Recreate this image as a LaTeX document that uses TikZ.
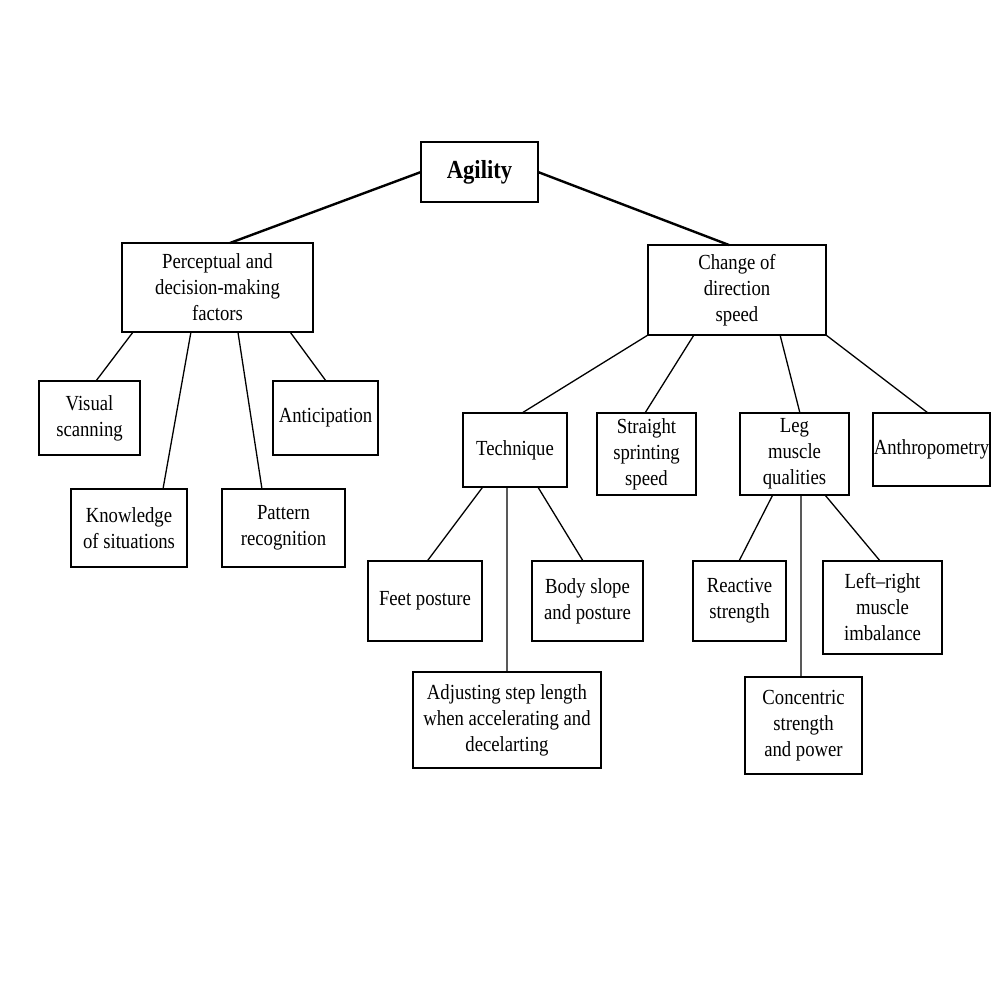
\documentclass[tikz,border=0pt]{standalone}
\usepackage{fontspec}
\setmainfont{Liberation Serif}[FakeStretch=0.87]
\usetikzlibrary{calc}
\begin{document}
\begin{tikzpicture}[x=1pt,y=-1pt,
  box/.style={draw=black, line width=1.3pt, rectangle, inner sep=0pt, outer sep=0pt,
     align=center, font=\fontsize{21.5}{26}\selectfont},
  conn/.style={draw=black, line width=1.3pt},
  thick conn/.style={draw=black, line width=2.4pt}]
\useasboundingbox[fill=white] (0,0) rectangle (1004,1004);
% nodes
\node[box, minimum width=117pt, minimum height=60pt, font=\fontsize{26}{30}\selectfont\bfseries] (agi) at (479.5,172) {Agility};
\node[box, minimum width=191pt, minimum height=89pt] (per) at (217.5,287.5) {Perceptual and\\decision-making\\factors};
\node[box, minimum width=101pt, minimum height=74pt] (vis) at (89.5,418) {Visual\\scanning};
\node[box, minimum width=105pt, minimum height=74pt] (ant) at (325.5,418) {Anticipation};
\node[box, minimum width=116pt, minimum height=78pt] (kno) at (129,528) {Knowledge\\of situations};
\node[box, minimum width=123pt, minimum height=78pt] (pat) at (283.5,528) {Pattern\\recognition};
\node[box, minimum width=178pt, minimum height=90pt] (cha) at (737,290) {Change of\\direction\\speed};
\node[box, minimum width=104pt, minimum height=74pt] (tec) at (515,450) {Technique};
\node[box, minimum width=99pt, minimum height=82pt] (str) at (646.5,454) {Straight\\sprinting\\speed};
\node[box, minimum width=109pt, minimum height=82pt] (leg) at (794.5,454) {Leg\\muscle\\qualities};
\node[box, minimum width=117pt, minimum height=73pt] (anth) at (931.5,449.5) {Anthropometry};
\node[box, minimum width=114pt, minimum height=80pt] (feet) at (425,601) {Feet posture};
\node[box, minimum width=111pt, minimum height=80pt] (body) at (587.5,601) {Body slope\\and posture};
\node[box, minimum width=188pt, minimum height=96pt] (adj) at (507,720) {Adjusting step length\\when accelerating and\\decelarting};
\node[box, minimum width=93pt, minimum height=80pt] (rea) at (739.5,601) {Reactive\\strength};
\node[box, minimum width=119pt, minimum height=93pt] (lr) at (882.5,607.5) {Left–right\\muscle\\imbalance};
\node[box, minimum width=117pt, minimum height=97pt] (con) at (803.5,725.5) {Concentric\\strength\\and power};
% connectors
\draw[thick conn] (agi.west) -- ($(per.north west)!0.565!(per.north east)$);
\draw[thick conn] (agi.east) -- ($(cha.north west)!0.455!(cha.north east)$);
\draw[conn] ($(per.south west)!0.058!(per.south east)$) -- ($(vis.north west)!0.564!(vis.north east)$);
\draw[conn] ($(per.south west)!0.361!(per.south east)$) -- ($(kno.north west)!0.793!(kno.north east)$);
\draw[conn] ($(per.south west)!0.607!(per.south east)$) -- ($(pat.north west)!0.325!(pat.north east)$);
\draw[conn] ($(per.south west)!0.88!(per.south east)$) -- ($(ant.north west)!0.505!(ant.north east)$);
\draw[conn] (cha.south west) -- ($(tec.north west)!0.567!(tec.north east)$);
\draw[conn] ($(cha.south west)!0.258!(cha.south east)$) -- ($(str.north west)!0.485!(str.north east)$);
\draw[conn] ($(cha.south west)!0.742!(cha.south east)$) -- ($(leg.north west)!0.55!(leg.north east)$);
\draw[conn] (cha.south east) -- ($(anth.north west)!0.47!(anth.north east)$);
\draw[conn] ($(tec.south west)!0.19!(tec.south east)$) -- ($(feet.north west)!0.52!(feet.north east)$);
\draw[conn] ($(tec.south west)!0.423!(tec.south east)$) -- (adj.north);
\draw[conn] ($(tec.south west)!0.72!(tec.south east)$) -- ($(body.north west)!0.46!(body.north east)$);
\draw[conn] ($(leg.south west)!0.30!(leg.south east)$) -- ($(rea.north west)!0.495!(rea.north east)$);
\draw[conn] ($(leg.south west)!0.56!(leg.south east)$) -- ($(con.north west)!0.479!(con.north east)$);
\draw[conn] ($(leg.south west)!0.78!(leg.south east)$) -- ($(lr.north west)!0.48!(lr.north east)$);
\end{tikzpicture}
\end{document}
